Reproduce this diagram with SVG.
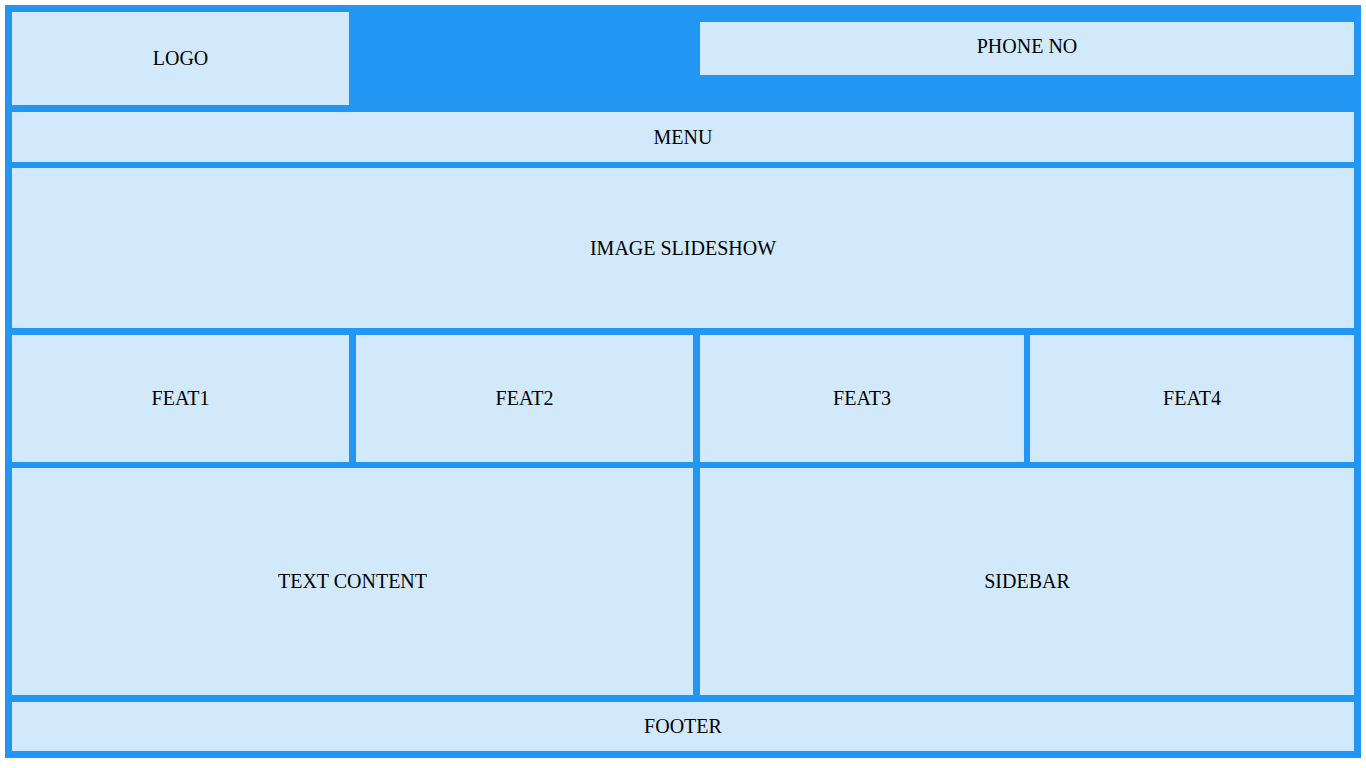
<svg xmlns="http://www.w3.org/2000/svg" width="1366" height="768" viewBox="0 0 1366 768">
<style>
.box{fill:#D2E9FC}
.lbl{font-family:"Liberation Serif","Times New Roman",serif;font-size:20px;fill:#000;text-anchor:middle}
</style>
<rect width="1366" height="768" fill="#ffffff"/>
<rect id="frame" x="5" y="5" width="1356" height="753" fill="#2196F3"/>
<g id="logo"><rect class="box" x="12" y="12" width="337" height="93"/><text class="lbl" x="180.5" y="65">LOGO</text></g>
<g id="phone"><rect class="box" x="700" y="22" width="654" height="53"/><text class="lbl" x="1027" y="53">PHONE NO</text></g>
<g id="menu"><rect class="box" x="12" y="112" width="1342" height="50"/><text class="lbl" x="683" y="143.5">MENU</text></g>
<g id="slideshow"><rect class="box" x="12" y="168" width="1342" height="160"/><text class="lbl" x="683" y="254.5">IMAGE SLIDESHOW</text></g>
<g id="feat1"><rect class="box" x="12" y="335" width="337" height="127"/><text class="lbl" x="180.5" y="405">FEAT1</text></g>
<g id="feat2"><rect class="box" x="356" y="335" width="337" height="127"/><text class="lbl" x="524.5" y="405">FEAT2</text></g>
<g id="feat3"><rect class="box" x="700" y="335" width="324" height="127"/><text class="lbl" x="862" y="405">FEAT3</text></g>
<g id="feat4"><rect class="box" x="1030" y="335" width="324" height="127"/><text class="lbl" x="1192" y="405">FEAT4</text></g>
<g id="textcontent"><rect class="box" x="12" y="468" width="681" height="227"/><text class="lbl" x="352.5" y="588">TEXT CONTENT</text></g>
<g id="sidebar"><rect class="box" x="700" y="468" width="654" height="227"/><text class="lbl" x="1027" y="588">SIDEBAR</text></g>
<g id="footer"><rect class="box" x="12" y="702" width="1342" height="49"/><text class="lbl" x="683" y="733">FOOTER</text></g>
<g id="connectors"></g>
</svg>
